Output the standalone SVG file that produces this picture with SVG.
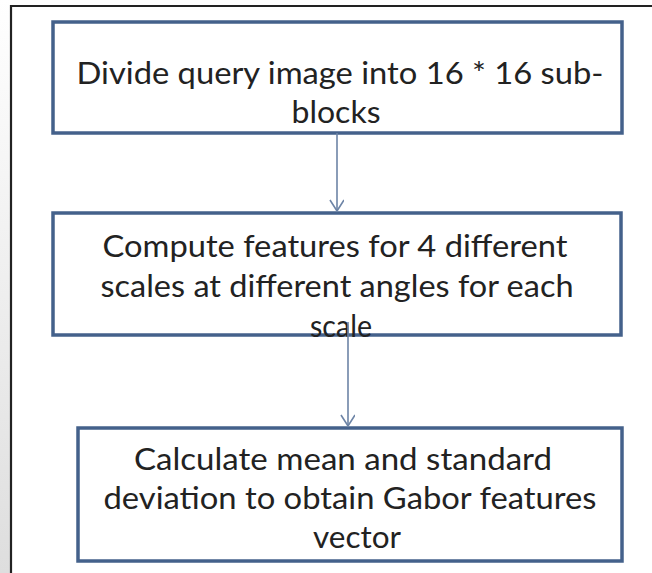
<svg xmlns="http://www.w3.org/2000/svg" width="652" height="573" viewBox="0 0 652 573">
<style>
.box{fill:#ffffff;stroke:#44618b;stroke-width:3.5}
.t{font-family:Lato,"Open Sans","Liberation Sans",sans-serif;font-size:30px;fill:#222222;text-anchor:middle}
.c{stroke:#6d84a6;stroke-width:1.6;fill:none}
</style>
<defs>
<marker id="ah" markerWidth="14" markerHeight="16" refX="12" refY="7" orient="auto" markerUnits="userSpaceOnUse">
<path d="M1,0 L12,7 L1,14" fill="none" stroke="#6d84a6" stroke-width="1.6"/>
</marker>
<linearGradient id="lg" x1="0" y1="0" x2="0" y2="1">
<stop offset="0" stop-color="#ffffff"/>
<stop offset="1" stop-color="#dedede"/>
</linearGradient>
</defs>
<rect x="0" y="0" width="652" height="573" fill="#ffffff"/>
<rect x="0" y="0" width="10" height="573" fill="url(#lg)"/>
<path d="M11,573 V6 H652" fill="none" stroke="#222222" stroke-width="2.2"/>
<g id="n1">
<rect class="box" x="53" y="22" width="569" height="111"/>
<text class="t" x="340" y="84" textLength="527" lengthAdjust="spacingAndGlyphs">Divide query image into 16 * 16 sub-</text>
<text class="t" x="336" y="123" textLength="89" lengthAdjust="spacingAndGlyphs">blocks</text>
</g>
<g id="n2">
<rect class="box" x="53" y="213" width="568" height="122"/>
<text class="t" x="335" y="257" textLength="465" lengthAdjust="spacingAndGlyphs">Compute features for 4 different</text>
<text class="t" x="337" y="297" textLength="473" lengthAdjust="spacingAndGlyphs">scales at different angles for each</text>
<text class="t" x="341" y="337" textLength="62" lengthAdjust="spacingAndGlyphs">scale</text>
</g>
<g id="n3">
<rect class="box" x="78" y="428" width="544" height="133"/>
<text class="t" x="343" y="470" textLength="418" lengthAdjust="spacingAndGlyphs">Calculate mean and standard</text>
<text class="t" x="350" y="509" textLength="493" lengthAdjust="spacingAndGlyphs">deviation to obtain Gabor features</text>
<text class="t" x="357" y="548" textLength="88" lengthAdjust="spacingAndGlyphs">vector</text>
</g>
<g id="connectors">
<line class="c" x1="337" y1="133" x2="337" y2="211" marker-end="url(#ah)"/>
<line class="c" x1="348" y1="322" x2="348" y2="426" marker-end="url(#ah)"/>
</g>
</svg>
